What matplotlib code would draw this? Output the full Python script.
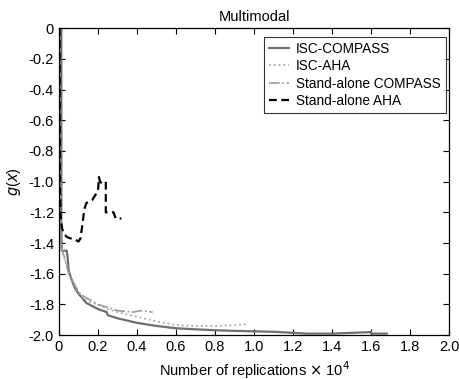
import matplotlib
matplotlib.use("Agg")
from matplotlib import pyplot as plt
from matplotlib.ticker import FixedLocator, FixedFormatter

plt.rcParams['font.family'] = ['Liberation Sans', 'DejaVu Sans']
plt.rcParams['axes.unicode_minus'] = False

# x in units of 10^4 replications
isc_compass_x = [0.012, 0.012, 0.014, 0.04, 0.045, 0.05, 0.065, 0.08, 0.1, 0.12, 0.14, 0.17, 0.2, 0.245,
                 0.25, 0.3, 0.35, 0.4, 0.5, 0.6, 0.7, 0.8, 0.9, 1.0, 1.1, 1.2, 1.27, 1.4, 1.5, 1.6, 1.6, 1.68]
isc_compass_y = [0, -1.3, -1.45, -1.45, -1.5, -1.58, -1.64, -1.69, -1.73, -1.76, -1.79, -1.81, -1.83, -1.85,
                 -1.87, -1.89, -1.905, -1.92, -1.94, -1.955, -1.962, -1.968, -1.972, -1.975, -1.978, -1.985,
                 -1.99, -1.99, -1.985, -1.98, -1.99, -1.99]

isc_aha_x = [0.008, 0.008, 0.02, 0.04, 0.06, 0.08, 0.1, 0.12, 0.15, 0.2, 0.25, 0.3, 0.4, 0.5, 0.6, 0.7,
             0.8, 0.9, 0.95, 0.97]
isc_aha_y = [-1.0, -1.4, -1.47, -1.55, -1.63, -1.68, -1.72, -1.76, -1.78, -1.8, -1.83, -1.85, -1.88, -1.91,
             -1.935, -1.94, -1.94, -1.935, -1.93, -1.92]

sa_compass_x = [0.01, 0.01, 0.03, 0.05, 0.08, 0.1, 0.13, 0.16, 0.2, 0.25, 0.3, 0.38, 0.42, 0.48]
sa_compass_y = [-1.2, -1.42, -1.5, -1.6, -1.67, -1.72, -1.75, -1.77, -1.8, -1.82, -1.84, -1.85, -1.84, -1.85]

sa_aha_x = [0.003, 0.004, 0.008, 0.015, 0.025, 0.04, 0.06, 0.08, 0.1, 0.11, 0.12, 0.13, 0.14, 0.155, 0.17,
            0.185, 0.2, 0.205, 0.21, 0.22, 0.235, 0.24, 0.24, 0.28, 0.29, 0.32]
sa_aha_y = [0, -1.0, -1.22, -1.3, -1.34, -1.36, -1.37, -1.375, -1.39, -1.37, -1.28, -1.18, -1.14, -1.13,
            -1.12, -1.09, -1.06, -0.97, -1.0, -1.01, -1.0, -1.0, -1.2, -1.2, -1.24, -1.24]

xticks = [0, 0.2, 0.4, 0.6, 0.8, 1.0, 1.2, 1.4, 1.6, 1.8, 2.0]
xtick_labels = ["0", "0.2", "0.4", "0.6", "0.8", "1.0", "1.2", "1.4", "1.6", "1.8", "2.0"]
yticks = [0, -0.2, -0.4, -0.6, -0.8, -1.0, -1.2, -1.4, -1.6, -1.8, -2.0]
ytick_labels = ["0", "-0.2", "-0.4", "-0.6", "-0.8", "-1.0", "-1.2", "-1.4", "-1.6", "-1.8", "-2.0"]

fig = plt.figure(figsize=(4.59, 3.8), dpi=100)
ax = fig.add_axes([0.1285, 0.118, 0.85, 0.808])

ax.plot(isc_compass_x, isc_compass_y, color='#6e6e6e', lw=1.6, label='ISC-COMPASS')
ax.plot(isc_aha_x, isc_aha_y, color='#a8a8a8', lw=1.3, ls=':', label='ISC-AHA')
ax.plot(sa_compass_x, sa_compass_y, color='#999999', lw=1.2, ls='-.', label='Stand-alone COMPASS')
ax.plot(sa_aha_x, sa_aha_y, color='black', lw=1.6, ls=(0, (3.5, 2)), label='Stand-alone AHA')

ax.set_xlim(0, 2.0)
ax.set_ylim(-2.0, 0)
ax.xaxis.set_major_locator(FixedLocator(xticks))
ax.xaxis.set_major_formatter(FixedFormatter(xtick_labels))
ax.yaxis.set_major_locator(FixedLocator(yticks))
ax.yaxis.set_major_formatter(FixedFormatter(ytick_labels))
ax.tick_params(direction='in', top=True, right=True, labelsize=10.5, length=4, width=0.8)
for s in ax.spines.values():
    s.set_linewidth(0.9)

ax.set_title("Multimodal", fontsize=10.5, pad=5)
ax.set_xlabel(r"Number of replications $\times$ 10$^4$", fontsize=10.5)
ax.set_ylabel(r"$g$($x$)", fontsize=10.5)

leg = ax.legend(loc='upper right', fontsize=9.8, frameon=True, fancybox=False, edgecolor='black',
                handlelength=1.5, borderpad=0.35, labelspacing=0.25, handletextpad=0.5,
                borderaxespad=0.2, bbox_to_anchor=(0.998, 0.98))
leg.get_frame().set_linewidth(0.8)

fig.savefig("out.png", dpi=100)
